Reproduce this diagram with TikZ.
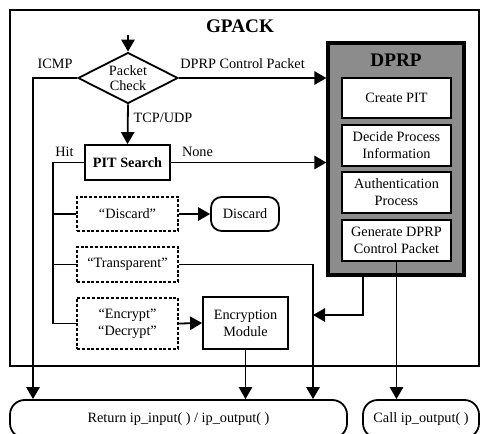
\documentclass[tikz,border=0pt]{standalone}
\usepackage{fontspec}
\setmainfont{Liberation Serif}
\usetikzlibrary{shapes.geometric,arrows.meta,calc}

\tikzset{
  lw/.style={line width=1.35pt},
  arr/.style={lw,-{Triangle[length=9pt,width=10pt]}},
  plainbox/.style={draw,lw,rectangle,align=center,inner sep=0pt},
  dashbox/.style={draw,line width=1.35pt,dash pattern=on 2.2pt off 1.4pt,rectangle,align=center,inner sep=0pt,
    minimum width=75.75pt},
  roundbox/.style={draw,lw,rectangle,rounded corners=11pt,align=center,inner sep=0pt},
  innerbox/.style={draw,lw,fill=white,rectangle,align=center,inner sep=0pt,
    minimum width=81.75pt,minimum height=30.5pt},
  lbl/.style={inner sep=0pt,anchor=center},
  txt/.style={font=\fontsize{10.7}{12.8}\selectfont},
  title/.style={font=\fontsize{14.4}{16}\selectfont\bfseries,inner sep=0pt},
}

\begin{document}
\begin{tikzpicture}[x=0.75pt,y=-0.75pt,txt]
\path[use as bounding box] (0,0) rectangle (481,433);
\clip (0,0) rectangle (481,433);
\fill[white] (0,0) rectangle (481,433);

% GPACK frame and its title
\node[draw,lw,rectangle,inner sep=0pt,minimum width=351.75pt,minimum height=267pt] (gpack) at (244.5,188) {};
\node[title] (gtitle) at (240,26) {GPACK};

% packet classification
\node[draw,lw,diamond,aspect=2,inner sep=0pt,minimum width=75pt,minimum height=38.25pt,align=center]
  (pc) at (128,78) {Packet\\[-1pt]Check};
\node[plainbox,minimum width=63.75pt,minimum height=26.25pt,font=\fontsize{10.7}{12.8}\selectfont\bfseries]
  (pit) at (127.5,162.5) {PIT Search};

% PIT results
\node[dashbox,minimum height=25.5pt] (ddisc) at (127.5,214) {“Discard”};
\node[dashbox,minimum height=26.25pt] (dtran) at (127.5,264.5) {“Transparent”};
\node[dashbox,minimum height=38.25pt] (denc) at (127.5,323.5) {“Encrypt”\\“Decrypt”};
\node[roundbox,rounded corners=8pt,minimum width=51pt,minimum height=25.5pt] (disc) at (245,214) {Discard};
\node[plainbox,minimum width=63.75pt,minimum height=39pt] (enc) at (245.5,323) {Encryption\\Module};

% DPRP block
\node[draw,line width=2.4pt,rectangle,fill={rgb,255:red,140;green,140;blue,140},inner sep=0pt,
  minimum width=102pt,minimum height=174pt] (dprp) at (396,159) {};
\node[title] (dtitle) at (396,60) {DPRP};
\node[innerbox] (cpit) at (396.5,98) {Create PIT};
\node[innerbox] (dpi) at (396.5,145.5) {Decide Process\\Information};
\node[innerbox] (auth) at (396.5,192.5) {Authentication\\Process};
\node[innerbox] (gen) at (396.5,240.5) {Generate DPRP\\Control Packet};

% exits
\node[roundbox,minimum width=252.75pt,minimum height=28.5pt] (ret) at (178.5,419) {Return ip\_input( ) / ip\_output( )};
\node[roundbox,minimum width=87pt,minimum height=28.5pt] (call) at (421,419) {Call ip\_output( )};

% helper points
\coordinate (in) at (128,35);
\coordinate (icmp) at (33,78);
\coordinate (hit) at (53,162.5);
\coordinate (tr) at (313,264.5);
\coordinate (dx) at (363,0);
\coordinate (tap) at (313,315);

% connectors
\draw[arr] (in) -- (pc.north);
\draw[arr] (pc.west) -| (icmp |- ret.north);
\draw[arr] (pc.east) -- (pc.east -| dprp.west);
\draw[arr] (pc.south) -- (pit.north);
\draw[lw] (pit.west) -| (hit |- denc.west) -- (denc.west);
\draw[lw] (hit |- ddisc.west) -- (ddisc.west);
\draw[lw] (hit |- dtran.west) -- (dtran.west);
\draw[arr] (pit.east) -- (pit.east -| dprp.west);
\draw[arr] (ddisc.east) -- (disc.west);
\draw[arr] (dtran.east) -| (tr |- ret.north);
\draw[arr] (denc.east) -- (enc.west);
\draw[arr] (enc.south) -- (enc.south |- ret.north);
\draw[arr] (dx |- dprp.south) |- (tap);
\draw[arr] (gen.south) -- (gen.south |- call.north);

% connector labels
\node[lbl] (licmp) at (55,64) {ICMP};
\node[lbl] (lctrl) at (242.5,64) {DPRP Control Packet};
\node[lbl] (ltcp) at (163,118) {TCP/UDP};
\node[lbl] (lhit) at (64.5,152) {Hit};
\node[lbl] (lnone) at (197.5,152) {None};
\end{tikzpicture}
\end{document}
